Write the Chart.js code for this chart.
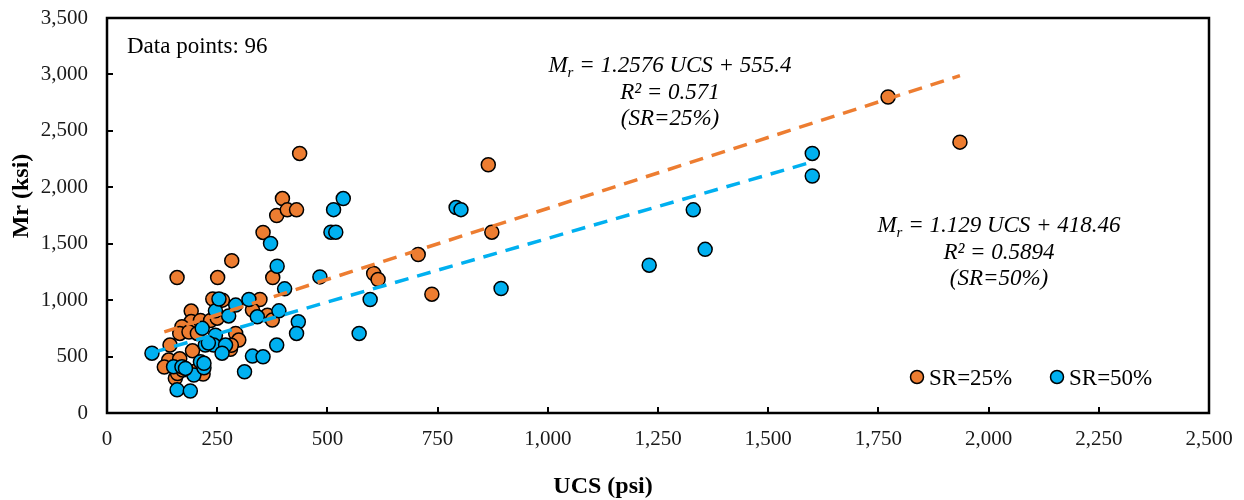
<!DOCTYPE html>
<html>
<head>
<meta charset="utf-8">
<script src="https://cdn.jsdelivr.net/npm/chart.js@4"></script>
<style>
  html, body { margin: 0; padding: 0; background: #fff; }
  #wrap { width: 1244px; height: 500px; }
</style>
</head>
<body>
<div id="wrap"><canvas id="c" width="1244" height="500"></canvas></div>
<script>
// Resilient modulus (Mr, ksi) versus unconfined compressive strength (UCS, psi)
const ucsSR25 = [437, 398, 385, 409, 430, 354, 283, 159, 251, 376, 240, 262, 347, 191, 191, 170,
                 212, 235, 165, 186, 143, 233, 280, 140, 165, 130, 155, 218, 330, 364, 375, 292,
                 299, 194, 605, 615, 706, 737, 865, 873, 1772, 1935, 200, 160, 205, 250, 282, 172];
const mrSR25  = [2300, 1900, 1750, 1800, 1800, 1600, 1350, 1200, 1200, 1200, 1010, 1000, 1006, 903, 810, 764,
                 820, 820, 705, 718, 602, 617, 565, 469, 480, 407, 307, 345, 912, 867, 823, 705,
                 646, 551, 1236, 1183, 1404, 1053, 2200, 1602, 2800, 2400, 370, 350, 705, 840, 600, 380];

const ucsSR50 = [102, 151, 170, 159, 189, 197, 212, 220, 216, 246, 223, 242, 269, 261, 246, 254,
                 276, 292, 322, 341, 390, 386, 371, 403, 483, 434, 430, 385, 330, 354, 312, 536,
                 514, 508, 519, 597, 572, 792, 803, 894, 1230, 1330, 1357, 1600, 1600, 220, 178, 230];
const mrSR50  = [530, 410, 410, 205, 195, 336, 454, 400, 750, 690, 602, 602, 602, 530, 905, 1010,
                 860, 956, 1006, 852, 905, 1300, 1502, 1100, 1206, 808, 705, 602, 504, 498, 365, 1900,
                 1802, 1602, 1602, 1006, 705, 1820, 1802, 1103, 1310, 1800, 1450, 2300, 2100, 440, 395, 620];

// Linear fits: Mr = slope * UCS + intercept
const fitSR25 = { slope: 1.2576, intercept: 555.4, r2: '0.571' };
const fitSR50 = { slope: 1.129, intercept: 418.46, r2: '0.5894' };

const seriesNames = ['SR=25%', 'SR=50%'];
const xTicks = [0, 250, 500, 750, 1000, 1250, 1500, 1750, 2000, 2250, 2500];
const yTicks = [0, 500, 1000, 1500, 2000, 2500, 3000, 3500];

const ORANGE = '#ED7D31';
const BLUE = '#00B0F0';
const SERIF = "'Liberation Serif', 'Times New Roman', serif";

const toPoints = (xs, ys) => xs.map((x, i) => ({ x, y: ys[i] }));
const fitLine = (xs, fit) => {
  const lo = Math.min(...xs), hi = Math.max(...xs);
  return [{ x: lo, y: fit.slope * lo + fit.intercept }, { x: hi, y: fit.slope * hi + fit.intercept }];
};
const fmt = v => Number(v).toLocaleString('en-US');

// Frame, inward tick marks, annotations and legend
const decor = {
  id: 'decor',
  beforeDatasetsDraw(chart) {
    const { ctx, chartArea: a, scales: { x, y } } = chart;
    ctx.save();
    ctx.strokeStyle = '#000';
    ctx.lineWidth = 2;
    ctx.beginPath();
    xTicks.slice(1, -1).forEach(v => {
      const px = Math.round(x.getPixelForValue(v));
      ctx.moveTo(px, a.bottom); ctx.lineTo(px, a.bottom - 6);
    });
    yTicks.slice(1, -1).forEach(v => {
      const py = Math.round(y.getPixelForValue(v));
      ctx.moveTo(a.left, py); ctx.lineTo(a.left + 6, py);
    });
    ctx.stroke();
    ctx.lineWidth = 2.5;
    ctx.strokeRect(a.left, a.top, a.right - a.left, a.bottom - a.top);
    ctx.restore();
  },
  afterDraw(chart) {
    const { ctx } = chart;
    ctx.save();
    ctx.fillStyle = '#000';

    // axis titles
    ctx.font = `bold 24px ${SERIF}`;
    ctx.textAlign = 'center';
    ctx.textBaseline = 'middle';
    ctx.fillText('UCS (psi)', 603, 487);
    ctx.save();
    ctx.translate(22, 196);
    ctx.rotate(-Math.PI / 2);
    ctx.fillText('Mr (ksi)', 0, 0);
    ctx.restore();

    // sample count
    ctx.textAlign = 'left';
    ctx.textBaseline = 'alphabetic';
    ctx.font = `23px ${SERIF}`;
    ctx.fillText('Data points: 96', 127, 53);

    // regression equations
    const eqLine = (cx, base, fit) => {
      const big = `italic 23px ${SERIF}`, small = `italic 15px ${SERIF}`;
      const rest = ` = ${fit.slope} UCS + ${fit.intercept}`;
      ctx.font = big; const wM = ctx.measureText('M').width; const wRest = ctx.measureText(rest).width;
      ctx.font = small; const wr = ctx.measureText('r').width;
      let x0 = cx - (wM + wr + wRest) / 2;
      ctx.textAlign = 'left';
      ctx.font = big; ctx.fillText('M', x0, base);
      ctx.font = small; ctx.fillText('r', x0 + wM, base + 5);
      ctx.font = big; ctx.fillText(rest, x0 + wM + wr, base);
    };
    const eqBlock = (cx, base, fit, name) => {
      eqLine(cx, base, fit);
      ctx.font = `italic 23px ${SERIF}`;
      ctx.textAlign = 'center';
      ctx.fillText(`R\u00B2 = ${fit.r2}`, cx, base + 27);
      ctx.fillText(`(${name})`, cx, base + 53);
    };
    eqBlock(670, 72, fitSR25, seriesNames[0]);
    eqBlock(999, 232, fitSR50, seriesNames[1]);

    // legend
    const legendItem = (mx, color, label) => {
      ctx.beginPath();
      ctx.arc(mx, 377, 6.5, 0, Math.PI * 2);
      ctx.fillStyle = color; ctx.fill();
      ctx.lineWidth = 1.5; ctx.strokeStyle = '#000'; ctx.stroke();
      ctx.fillStyle = '#000';
      ctx.font = `23px ${SERIF}`;
      ctx.textAlign = 'left';
      ctx.textBaseline = 'alphabetic';
      ctx.fillText(label, mx + 12, 385);
    };
    legendItem(917, ORANGE, seriesNames[0]);
    legendItem(1057, BLUE, seriesNames[1]);
    ctx.restore();
  }
};

new Chart(document.getElementById('c'), {
  type: 'scatter',
  data: {
    datasets: [
      {
        type: 'line', label: 'fit ' + seriesNames[0], data: fitLine(ucsSR25, fitSR25),
        borderColor: ORANGE, borderWidth: 3.5, borderDash: [14, 9], pointRadius: 0, fill: false, order: 0
      },
      {
        type: 'line', label: 'fit ' + seriesNames[1], data: fitLine(ucsSR50, fitSR50),
        borderColor: BLUE, borderWidth: 3.5, borderDash: [14, 9], pointRadius: 0, fill: false, order: 0
      },
      {
        label: seriesNames[1], data: toPoints(ucsSR50, mrSR50),
        backgroundColor: BLUE, borderColor: '#000', borderWidth: 1.5, pointRadius: 7, order: 1
      },
      {
        label: seriesNames[0], data: toPoints(ucsSR25, mrSR25),
        backgroundColor: ORANGE, borderColor: '#000', borderWidth: 1.5, pointRadius: 7, order: 2
      }
    ]
  },
  options: {
    responsive: false,
    animation: false,
    devicePixelRatio: 1,
    layout: { padding: { top: 18, right: 35, left: 0, bottom: 0 } },
    plugins: { legend: { display: false }, tooltip: { enabled: false } },
    scales: {
      x: {
        type: 'linear', min: 0, max: 2500,
        afterFit: s => { s.height = 87; s.paddingLeft = 0; s.paddingRight = 0; },
        afterBuildTicks: s => { s.ticks = xTicks.map(v => ({ value: v })); },
        grid: { display: false, drawTicks: false },
        border: { display: false },
        ticks: { padding: 14, color: '#1a1a1a', font: { family: SERIF, size: 21 }, callback: v => fmt(v), maxRotation: 0 }
      },
      y: {
        type: 'linear', min: 0, max: 3500,
        afterFit: s => { s.width = 107; s.paddingTop = 0; s.paddingBottom = 0; },
        afterBuildTicks: s => { s.ticks = yTicks.map(v => ({ value: v })); },
        grid: { display: false, drawTicks: false },
        border: { display: false },
        ticks: { padding: 19, color: '#1a1a1a', font: { family: SERIF, size: 21 }, callback: v => fmt(v) }
      }
    }
  },
  plugins: [decor]
});
</script>
</body>
</html>
